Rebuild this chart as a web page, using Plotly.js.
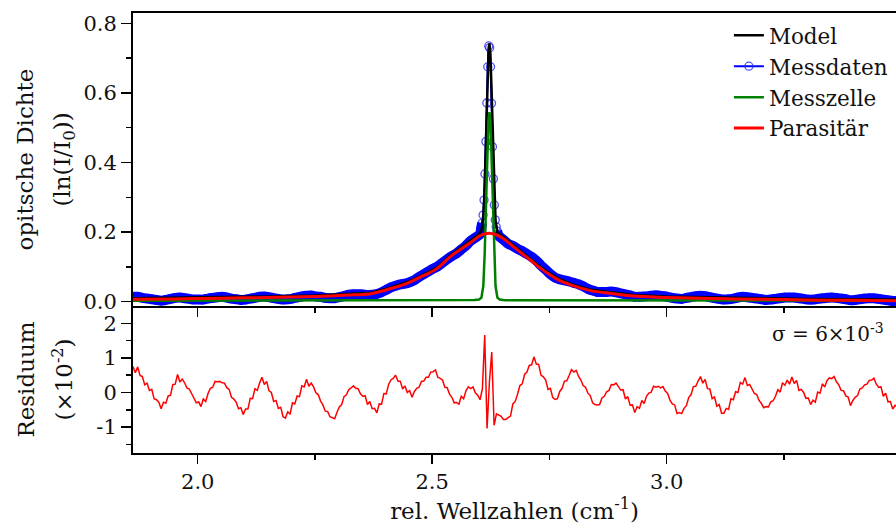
<!DOCTYPE html>
<html>
<head>
<meta charset="utf-8">
<script src="https://cdn.plot.ly/plotly-3.0.1.min.js"></script>
<style>html,body{margin:0;padding:0;background:#fff}#chart{width:896px;height:524px}</style>
</head>
<body>
<div id="chart"></div>
<script>
// ---------- data ----------
// Parasitär (broad component)
const paraX = [1.862,1.95,2.05,2.15,2.25,2.32,2.37,2.41,2.45,2.48,2.51,2.54,2.56,2.58,2.60,2.61,2.622,2.635,2.65,2.67,2.69,2.71,2.73,2.75,2.77,2.80,2.84,2.88,2.93,3.0,3.1,3.2,3.3,3.4,3.49];
const paraY = [0.007,0.008,0.010,0.012,0.015,0.019,0.023,0.037,0.055,0.074,0.095,0.131,0.150,0.168,0.188,0.194,0.197,0.193,0.183,0.162,0.140,0.119,0.097,0.078,0.062,0.046,0.031,0.024,0.016,0.012,0.009,0.007,0.005,0.004,0.003];

// Messzelle (narrow component)
const cellX = [1.862,2.40,2.56,2.59,2.600,2.605,2.609,2.612,2.615,2.618,2.620,2.622,2.624,2.626,2.629,2.632,2.635,2.639,2.644,2.655,2.69,2.85,3.49];
const cellY = [0.003,0.003,0.004,0.005,0.006,0.012,0.045,0.140,0.290,0.440,0.520,0.545,0.520,0.440,0.290,0.140,0.045,0.012,0.006,0.004,0.004,0.003,0.003];

// Model
const modelX = [1.862,1.95,2.05,2.15,2.25,2.32,2.37,2.41,2.45,2.48,2.51,2.54,2.56,2.58,2.59,2.600,2.605,2.609,2.612,2.615,2.618,2.620,2.622,2.624,2.626,2.629,2.632,2.635,2.639,2.644,2.65,2.67,2.69,2.71,2.73,2.75,2.77,2.80,2.84,2.88,2.93,3.0,3.1,3.2,3.3,3.4,3.49];
const modelY = [0.010,0.011,0.013,0.015,0.018,0.022,0.026,0.040,0.058,0.077,0.098,0.135,0.154,0.173,0.183,0.194,0.205,0.240,0.333,0.484,0.636,0.716,0.742,0.715,0.633,0.482,0.331,0.234,0.200,0.193,0.187,0.166,0.144,0.123,0.101,0.082,0.066,0.049,0.034,0.027,0.019,0.015,0.012,0.010,0.008,0.007,0.006];

// Messdaten: left wing (x = 1.862 + 0.01 k), peak samples, right wing (x = 2.642 + 0.01 k)
const messLeftStart = 1.862, messRightStart = 2.642, messStep = 0.01;
const messLeftY = [0.014,0.014,0.011,0.009,0.007,0.005,0.003,0.005,0.008,0.011,
0.012,0.010,0.008,0.006,0.006,0.006,0.009,0.011,0.013,0.014,
0.012,0.009,0.007,0.005,0.006,0.009,0.011,0.014,0.015,0.013,
0.010,0.008,0.006,0.007,0.009,0.012,0.015,0.017,0.018,0.015,
0.014,0.011,0.010,0.010,0.013,0.016,0.020,0.021,0.021,0.021,
0.019,0.020,0.022,0.027,0.034,0.041,0.046,0.050,0.052,0.056,
0.062,0.071,0.079,0.087,0.095,0.102,0.112,0.122,0.131,0.139,
0.150,0.161,0.175,0.184,0.194];
const messPeakX = [2.6045,2.6065,2.6085,2.6105,2.6125,2.6145,2.6165,2.6185,2.6205,2.6225,2.6245,2.6265,2.6285,2.6305,2.6325,2.6345,2.6365,2.6385];
const messPeakY = [0.212,0.226,0.249,0.292,0.367,0.460,0.571,0.675,0.735,0.730,0.675,0.570,0.445,0.353,0.278,0.235,0.215,0.203];
const messRightY = [0.189,0.178,0.166,0.160,0.152,0.145,0.137,0.129,0.118,0.104,
0.092,0.079,0.069,0.064,0.061,0.058,0.054,0.050,0.044,0.037,
0.032,0.028,0.028,0.028,0.029,0.027,0.024,0.021,0.018,0.014,
0.014,0.015,0.016,0.018,0.018,0.016,0.014,0.011,0.009,0.008,
0.011,0.013,0.016,0.017,0.016,0.013,0.010,0.008,0.006,0.007,
0.009,0.012,0.014,0.013,0.011,0.009,0.007,0.005,0.006,0.008,
0.010,0.012,0.012,0.012,0.010,0.008,0.006,0.006,0.008,0.010,
0.011,0.012,0.011,0.009,0.007,0.004,0.005,0.007,0.009,0.010,
0.010,0.008,0.006,0.004,0.002,0.002];

// Residuum (x10^-2), x = 1.862 + 0.005 i
const resStart = 1.862, resStep = 0.005;
const resY = [0.75,0.57,0.74,0.49,0.46,0.22,0.27,0.06,0.09,-0.18,-0.21,
-0.28,-0.47,-0.28,-0.31,-0.10,-0.08,0.23,0.24,0.52,0.30,0.39,
0.28,0.13,0.10,-0.05,-0.16,-0.30,-0.27,-0.41,-0.19,-0.26,-0.03,
0.12,0.15,0.32,0.31,0.32,0.28,0.27,0.14,0.09,-0.14,-0.19,
-0.28,-0.47,-0.44,-0.64,-0.48,-0.48,-0.17,-0.18,0.11,0.06,0.27,
0.44,0.23,0.32,0.05,0.00,-0.26,-0.23,-0.46,-0.43,-0.70,-0.74,
-0.56,-0.63,-0.30,-0.33,-0.10,-0.12,0.19,0.16,0.38,0.18,0.27,
0.16,-0.01,-0.06,-0.25,-0.36,-0.54,-0.55,-0.70,-0.73,-0.76,-0.57,
-0.42,-0.35,-0.12,-0.07,0.08,0.13,0.19,0.12,0.11,-0.04,-0.11,
-0.10,-0.35,-0.26,-0.47,-0.46,-0.59,-0.33,-0.34,-0.03,-0.04,0.23,
0.36,0.41,0.50,0.33,0.32,0.10,0.19,0.00,0.05,-0.14,0.03,
0.12,0.15,0.32,0.33,0.44,0.44,0.59,0.60,0.65,0.44,0.41,
0.36,0.15,0.14,-0.05,-0.14,-0.30,-0.29,-0.34,-0.11,-0.18,0.05,
0.16,0.11,0.16,-0.01,-0.08,-0.21,0.10,1.66,-1.04,0.30,1.17,
-0.95,-0.62,-0.66,-0.69,-0.78,-0.78,-0.73,-0.68,-0.33,-0.26,-0.05,
0.20,0.25,0.52,0.59,0.78,0.80,1.03,0.82,0.81,0.50,0.45,
0.36,0.09,0.12,-0.15,-0.20,-0.18,0.03,0.12,0.33,0.34,0.49,
0.66,0.59,0.64,0.47,0.36,0.20,0.15,-0.02,-0.09,-0.30,-0.35,
-0.36,-0.35,-0.16,-0.11,0.02,0.06,0.23,0.22,0.27,0.16,0.07,
0.08,-0.19,-0.12,-0.37,-0.36,-0.58,-0.41,-0.46,-0.23,-0.32,-0.11,
-0.02,0.01,0.18,0.15,0.18,0.13,0.17,0.04,-0.03,-0.22,-0.33,
-0.36,-0.61,-0.58,-0.61,-0.46,-0.38,-0.15,-0.06,0.17,0.18,0.33,
0.46,0.27,0.38,0.11,0.10,-0.18,-0.13,-0.40,-0.35,-0.60,-0.60,
-0.46,-0.49,-0.18,-0.21,0.02,0.00,0.29,0.24,0.43,0.20,0.23,
0.12,-0.03,-0.06,-0.23,-0.32,-0.44,-0.41,-0.42,-0.27,-0.24,-0.11,
0.08,0.01,0.28,0.21,0.36,0.24,0.45,0.26,0.35,0.06,0.09,
0.00,-0.17,-0.16,-0.35,-0.22,-0.28,0.01,-0.02,0.25,0.16,0.35,
0.42,0.40,0.46,0.31,0.22,0.06,0.05,-0.10,-0.13,-0.38,-0.23,
-0.14,-0.09,0.10,0.13,0.22,0.24,0.35,0.36,0.41,0.24,0.15,
0.16,-0.11,-0.02,-0.27,-0.26,-0.48,-0.37,-0.42];

const xRange = [1.862, 3.489];
const sigmaText = 'σ = 6×10<sup>-3</sup>';
const yTitleTop = ['opitsche Dichte', '(ln(I/I<sub>0</sub>))'];
const yTitleBottom = ['Residuum', '(×10<sup>-2</sup>)'];
const xTitle = 'rel. Wellzahlen (cm<sup>-1</sup>)';

// ---------- build ----------
const r4 = v => Math.round(v * 10000) / 10000;
const messX = [].concat(
  messLeftY.map((_, k) => r4(messLeftStart + messStep * k)),
  messPeakX,
  messRightY.map((_, k) => r4(messRightStart + messStep * k))
);
const messY = [].concat(messLeftY, messPeakY, messRightY);
// dense part of the measurement drawn as a thick band (sparse peak samples excluded)
const bandY = messY.map((v, i) => (messX[i] > 2.607 && messX[i] < 2.637) ? null : v);
const resX = resY.map((_, i) => r4(resStart + resStep * i));

const FONT = 'DejaVu Serif';
const BLUE = '#0000ff';
const TXT = '#111';
const twoLines = lines => lines.map(s => '<span style="font-size:23px">' + s + '</span>').join('<br>');

const traces = [
  {x: messX, y: messY, xaxis: 'x2', yaxis: 'y', name: 'Messdaten', legendrank: 2,
   mode: 'lines+markers', line: {color: BLUE, width: 2},
   marker: {symbol: 'circle-open', size: 8, color: 'rgba(40,40,235,0.8)', line: {width: 1.3, color: 'rgba(40,40,235,0.8)'}}},
  {x: messX, y: bandY, xaxis: 'x2', yaxis: 'y', name: 'Messdaten', showlegend: false, hoverinfo: 'skip',
   mode: 'lines', line: {color: BLUE, width: 10, shape: 'spline', smoothing: 0.6}, connectgaps: false},
  {x: modelX, y: modelY, xaxis: 'x2', yaxis: 'y', name: 'Model', legendrank: 1,
   mode: 'lines', line: {color: '#000000', width: 2.5}},
  {x: cellX, y: cellY, xaxis: 'x2', yaxis: 'y', name: 'Messzelle', legendrank: 3,
   mode: 'lines', line: {color: '#008000', width: 2.5}},
  {x: paraX, y: paraY, xaxis: 'x2', yaxis: 'y', name: 'Parasitär', legendrank: 4,
   mode: 'lines', line: {color: '#ff0000', width: 3, shape: 'spline', smoothing: 0.8}},
  {x: resX, y: resY, xaxis: 'x', yaxis: 'y2', name: 'Residuum', showlegend: false,
   mode: 'lines', line: {color: '#ff0000', width: 1.5}}
];

const axisCommon = {
  showline: true, linecolor: '#000', linewidth: 2,
  ticks: 'outside', tickcolor: '#000', tickwidth: 1.5,
  showgrid: false, zeroline: false,
  tickfont: {family: FONT, size: 21, color: TXT}
};
const minorCommon = {ticklen: 5, tickwidth: 1.5, tickcolor: '#000', ticks: 'outside', showgrid: false};

const layout = {
  width: 896, height: 524,
  margin: {l: 133, r: 0, t: 13, b: 71},
  paper_bgcolor: '#fff', plot_bgcolor: '#fff',
  font: {family: FONT, size: 21, color: TXT},
  showlegend: true,
  legend: {x: 0.781, y: 0.996, xanchor: 'left', yanchor: 'top', bgcolor: '#fff',
           borderwidth: 0, font: {family: FONT, size: 21.5, color: TXT}, tracegroupgap: 0},
  xaxis: Object.assign({}, axisCommon, {
    anchor: 'y2', range: xRange, tick0: 0, dtick: 0.5, tickformat: '.1f', ticklen: 9,
    minor: Object.assign({dtick: 0.25}, minorCommon),
    title: {text: xTitle, standoff: 4, font: {family: FONT, size: 23, color: TXT}}
  }),
  xaxis2: Object.assign({}, axisCommon, {
    anchor: 'y', matches: 'x', range: xRange, tick0: 0, dtick: 0.5, ticklen: 9, showticklabels: false, mirror: true,
    minor: Object.assign({dtick: 0.25}, minorCommon)
  }),
  yaxis: Object.assign({}, axisCommon, {
    anchor: 'x2', domain: [0.3341, 1], range: [-0.0124, 0.8296], tick0: 0, dtick: 0.2, tickformat: '.1f', ticklen: 10,
    minor: Object.assign({dtick: 0.1}, minorCommon),
    title: {text: twoLines(yTitleTop), standoff: 4, font: {family: FONT, size: 29, color: TXT}}
  }),
  yaxis2: Object.assign({}, axisCommon, {
    anchor: 'x', domain: [0, 0.3341], range: [-1.75, 2.5],
    tickmode: 'array', tickvals: [-1, 0, 1, 2], ticktext: ['-1', '0', '1', '2'], ticklen: 10,
    minor: Object.assign({tickmode: 'array', tickvals: [-1.5, -0.5, 0.5, 1.5]}, minorCommon),
    title: {text: twoLines(yTitleBottom), standoff: 15, font: {family: FONT, size: 29, color: TXT}}
  }),
  annotations: [
    {text: sigmaText, xref: 'paper', yref: 'paper', x: 0.987, y: 0.273, xanchor: 'right', yanchor: 'middle',
     showarrow: false, font: {family: FONT, size: 20, color: TXT}}
  ]
};

Plotly.newPlot('chart', traces, layout, {displayModeBar: false, staticPlot: true});
</script>
</body>
</html>
